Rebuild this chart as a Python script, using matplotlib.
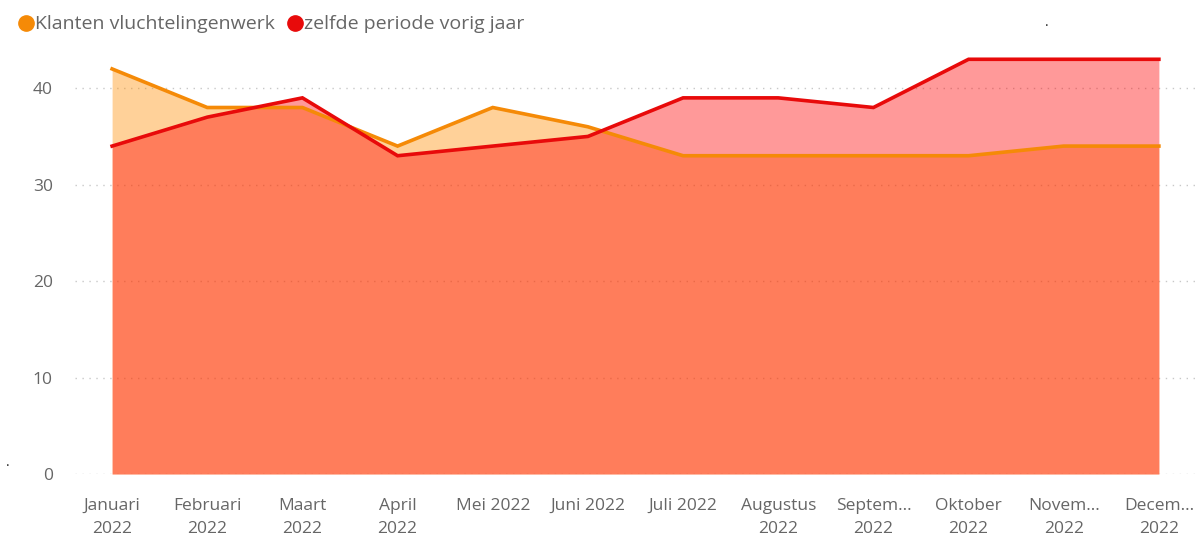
import matplotlib
matplotlib.use("Agg")
import matplotlib.pyplot as plt
from matplotlib.lines import Line2D
import numpy as np

months = ["Januari\n2022", "Februari\n2022", "Maart\n2022", "April\n2022", "Mei 2022", "Juni 2022",
          "Juli 2022", "Augustus\n2022", "Septem...\n2022", "Oktober\n2022", "Novem...\n2022", "Decem...\n2022"]
klanten = [42, 38, 38, 34, 38, 36, 33, 33, 33, 33, 34, 34]
vorig_jaar = [34, 37, 39, 33, 34, 35, 39, 39, 38, 43, 43, 43]
yticks = [0, 10, 20, 30, 40]

orange = "#F58A07"
red = "#E80A0A"
plt.rcParams['font.family'] = ['Open Sans', 'DejaVu Sans']

fig = plt.figure(figsize=(11.96, 5.39), dpi=100)
ax = fig.add_axes([0.0627, 0.1206, 0.9373, 0.8052])
x = np.arange(len(months))

ax.fill_between(x, 0, klanten, color="#FF8C00", alpha=0.4, linewidth=0, zorder=2)
ax.fill_between(x, 0, vorig_jaar, color="#FF0000", alpha=0.4, linewidth=0, zorder=3)
ax.plot(x, klanten, color=orange, lw=2.6, zorder=4, solid_joinstyle='miter')
ax.plot(x, vorig_jaar, color=red, lw=2.6, zorder=5, solid_joinstyle='miter')

ax.set_xlim(-0.39, 11.39)
ax.set_ylim(0, 45)
ax.set_yticks(yticks)
ax.set_xticks(x)
ax.set_xticklabels(months, fontsize=12.5, color="#666666", linespacing=1.65)
ax.tick_params(axis='y', labelsize=12.5, labelcolor="#666666", length=0, pad=16)
ax.tick_params(axis='x', length=0, pad=17)
ax.grid(axis='y', color="#C8C8C8", linestyle=(0, (1, 4)), linewidth=1, zorder=1)
for s in ax.spines.values():
    s.set_visible(False)
ax.set_axisbelow(True)

handles = [Line2D([], [], marker='o', linestyle='none', color=orange, markersize=11),
           Line2D([], [], marker='o', linestyle='none', color=red, markersize=11)]
fig.legend(handles, ["Klanten vluchtelingenwerk", "zelfde periode vorig jaar"],
           loc='upper left', bbox_to_anchor=(-0.003, 1.004), ncol=2, frameon=False,
           fontsize=14, labelcolor="#666666", handletextpad=-0.1, columnspacing=0.4,
           handlelength=1.2)

fig.text(1047/1196, 1 - 22/539, ".", fontsize=10, color="#222222", ha='center', va='center')
fig.text(8/1196, 1 - 462/539, ".", fontsize=10, color="#222222", ha='center', va='center')

fig.savefig("out.png", dpi=100)
